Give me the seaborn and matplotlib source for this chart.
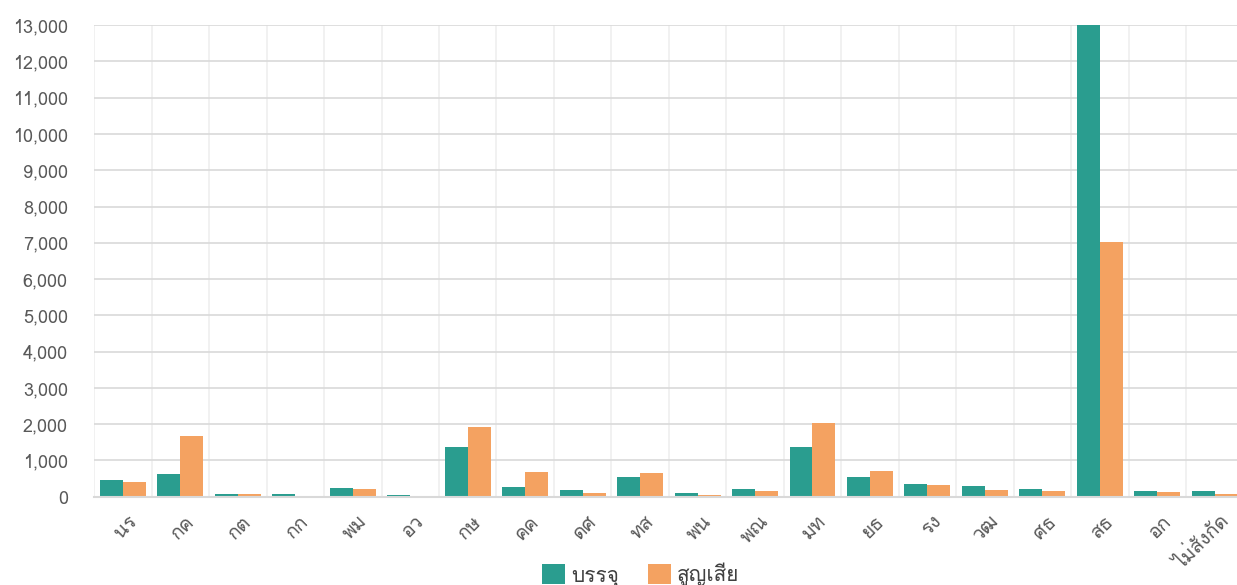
import pandas as pd
import matplotlib
matplotlib.use('Agg')
import matplotlib.pyplot as plt
import matplotlib.transforms as mtransforms
import seaborn as sns
from matplotlib import font_manager
from matplotlib.ft2font import FT2Font

# Categories and the two series
categories = ['นร', 'กค', 'กต', 'กก', 'พม', 'อว', 'กษ', 'คค', 'ดศ', 'ทส',
              'พน', 'พณ', 'มท', 'ยธ', 'รง', 'วฒ', 'ศธ', 'สธ', 'อก', 'ไม่สังกัด']
filled = [460, 630, 75, 75, 233, 50, 1370, 260, 178, 538,
          100, 205, 1360, 555, 360, 297, 205, 13000, 158, 150]
lost = [400, 1665, 60, 0, 205, 5, 1925, 685, 110, 640,
        40, 158, 2020, 713, 316, 178, 158, 7030, 130, 65]
series_names = ['บรรจุ', 'สูญเสีย']
colors = ['#2a9d8f', '#f4a261']


def find_thai_font():
    # look for an installed family that has Thai glyphs
    for f in font_manager.fontManager.ttflist:
        try:
            cmap = FT2Font(f.fname).get_charmap()
        except Exception:
            continue
        if 0x0E01 in cmap and 0x0E2A in cmap:
            return f.name
    return None


df = pd.DataFrame({
    'category': categories * 2,
    'value': filled + lost,
    'series': [series_names[0]] * len(categories) + [series_names[1]] * len(categories),
})

sns.set_style('white')
thai = find_thai_font()
fams = [thai, 'DejaVu Sans'] if thai else ['DejaVu Sans']
plt.rcParams['font.family'] = fams

fig = plt.figure(figsize=(12.37, 5.85), dpi=100)
ax = fig.add_axes([0.0762, 0.151, 0.929, 0.806])

sns.barplot(data=df, x='category', y='value', hue='series', palette=colors,
            width=0.8, saturation=1, linewidth=0, ax=ax, legend=True)

ax.set_ylim(0, 13000)
ax.set_xlim(-0.5, len(categories) - 0.5)
ax.set_yticks(range(0, 13001, 1000))
ax.yaxis.set_major_formatter(matplotlib.ticker.StrMethodFormatter('{x:,.0f}'))
ax.set_xticks([i * 0.5 - 0.5 for i in range(2 * len(categories) + 1)], minor=True)
ax.grid(axis='x', which='minor', color='#efefef', linewidth=1.2, zorder=0)
ax.grid(axis='y', which='major', color='#d9d9d9', linewidth=1.2, zorder=0)
ax.set_axisbelow(True)

ax.set_xlabel('')
ax.set_ylabel('')
ax.tick_params(axis='y', length=0, pad=19, labelsize=13, labelcolor='#595959')
ax.tick_params(axis='x', which='both', length=0, pad=16, labelsize=14, labelcolor='#595959')

# rotated labels, anchored at their right end and nudged right of the tick
shift = mtransforms.ScaledTranslation(8 / 72, 0, fig.dpi_scale_trans)
for lab in ax.get_xticklabels():
    lab.set_rotation(45)
    lab.set_ha('right')
    lab.set_va('center')
    lab.set_rotation_mode('anchor')
    lab.set_transform(lab.get_transform() + shift)

for s in ['top', 'right', 'left']:
    ax.spines[s].set_visible(False)
ax.spines['bottom'].set_color('#d9d9d9')
ax.spines['bottom'].set_linewidth(1.5)

handles, labels = ax.get_legend_handles_labels()
ax.get_legend().remove()
fig.legend(handles, labels, loc='lower center', bbox_to_anchor=(0.518, -0.035),
           ncol=2, frameon=False, fontsize=15, handlelength=1.1, handleheight=1.1,
           handletextpad=0.3, columnspacing=1.4, labelcolor='#404040')

fig.savefig('out.png', dpi=100)
